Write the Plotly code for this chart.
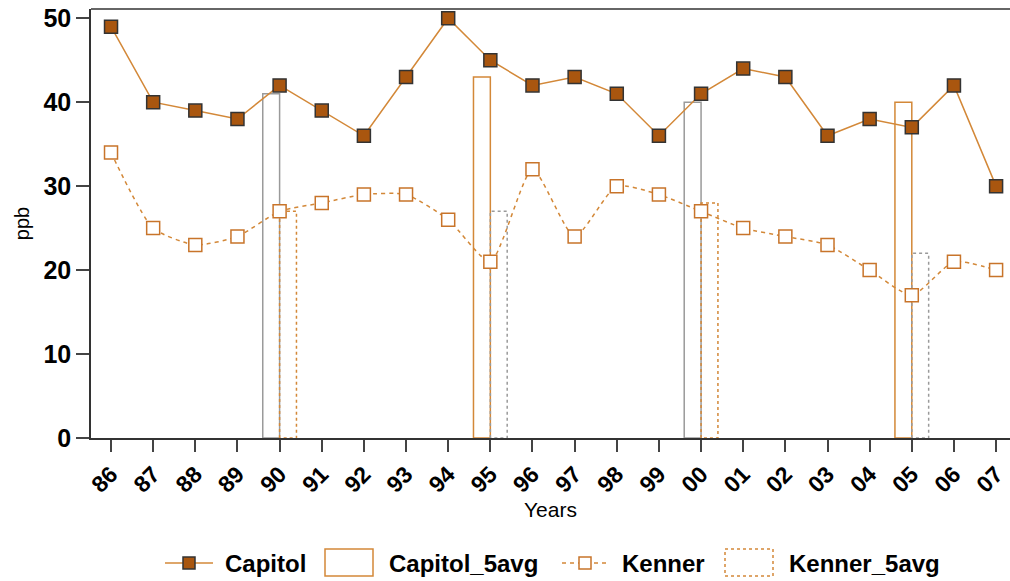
import plotly.graph_objects as go

# Annual values (ppb) at the two sites
years = ["86", "87", "88", "89", "90", "91", "92", "93", "94", "95", "96",
         "97", "98", "99", "00", "01", "02", "03", "04", "05", "06", "07"]
capitol = [49, 40, 39, 38, 42, 39, 36, 43, 50, 45, 42,
           43, 41, 36, 41, 44, 43, 36, 38, 37, 42, 30]
kenner = [34, 25, 23, 24, 27, 28, 29, 29, 26, 21, 32,
          24, 30, 29, 27, 25, 24, 23, 20, 17, 21, 20]

# Five-year averages, reported at the end year of each block
avg_years = ["90", "95", "00", "05"]
capitol_5avg = [41, 43, 40, 40]
kenner_5avg = [27, 27, 28, 22]

ORANGE = "#d38838"
BROWN = "#a9560f"
DARK = "#333333"
GRAY = "#9a9a9a"

# outline colours of the average boxes, one per block
capitol_box_colors = [GRAY, ORANGE, GRAY, ORANGE]
kenner_box_colors = [ORANGE, GRAY, ORANGE, GRAY]

idx = {y: i for i, y in enumerate(years)}
avg_pos = [idx[y] for y in avg_years]
bar_w = 0.4

W, H = 1010, 581
M_L, M_R, M_T, M_B = 91, 0, 9, 143
PW, PH = W - M_L - M_R, H - M_T - M_B

fig = go.Figure()

# Capitol 5-year average: outlined bar left of the year tick
fig.add_trace(go.Bar(
    x=avg_pos, y=capitol_5avg, name="Capitol_5avg",
    width=bar_w, offset=-bar_w,
    marker=dict(color="rgba(255,255,255,0)",
                line=dict(color=capitol_box_colors, width=1.5)),
))

# Kenner 5-year average: dashed box right of the year tick
for col in (ORANGE, GRAY):
    kx, ky = [], []
    for p, v, c in zip(avg_pos, kenner_5avg, kenner_box_colors):
        if c != col:
            continue
        kx += [p, p, p + bar_w, p + bar_w, p, None]
        ky += [0, v, v, 0, 0, None]
    fig.add_trace(go.Scatter(
        x=kx, y=ky, name="Kenner_5avg", mode="lines",
        line=dict(color=col, width=1.5, dash="3px,3px"),
    ))

fig.add_trace(go.Scatter(
    x=list(range(len(years))), y=capitol, name="Capitol", mode="lines+markers",
    line=dict(color=ORANGE, width=1.5),
    marker=dict(symbol="square", size=13, color=BROWN, line=dict(color=DARK, width=1.5)),
))

fig.add_trace(go.Scatter(
    x=list(range(len(years))), y=kenner, name="Kenner", mode="lines+markers",
    line=dict(color=ORANGE, width=1.5, dash="4px,4px", shape="spline", smoothing=0.6),
    marker=dict(symbol="square", size=13, color="white", line=dict(color="#c8742a", width=1.5)),
))

fig.update_layout(
    width=W, height=H,
    margin=dict(l=M_L, r=M_R, t=M_T, b=M_B),
    paper_bgcolor="white", plot_bgcolor="white",
    font=dict(family="Liberation Sans, Arial, sans-serif", color="black"),
    showlegend=False,
    barmode="overlay",
)

fig.update_xaxes(
    range=[-0.475, 21.33],
    tickmode="array", tickvals=list(range(len(years))), ticktext=years,
    tickangle=-45, tickfont=dict(size=23, weight="bold"),
    ticks="outside", ticklen=12, tickcolor="#444", tickwidth=1.5,
    showline=True, linecolor=DARK, linewidth=1.5,
    showgrid=False, zeroline=False,
    title=dict(text="Years", font=dict(size=21), standoff=4),
)
fig.update_yaxes(
    range=[0, 51.1],
    tickvals=[0, 10, 20, 30, 40, 50],
    tickfont=dict(size=25, weight="bold"),
    ticks="outside", ticklen=13, tickcolor="#444", tickwidth=1.5,
    showline=True, linecolor=DARK, linewidth=1.5,
    showgrid=False, zeroline=False,
    title=dict(text="ppb", font=dict(size=20), standoff=8),
)

# top frame line
fig.add_shape(type="line", xref="paper", yref="paper", x0=0, x1=1, y0=1, y1=1,
              line=dict(color=DARK, width=1.5))


# ---- legend row below the axis, laid out in page pixels ----
def px(x):
    return (x - M_L) / PW


def py(y):
    return (H - M_B - y) / PH


LEG_Y = 563
LEG_FONT = dict(size=24, weight="bold", color="black",
                family="Liberation Sans, Arial, sans-serif")


def leg_text(x, text):
    fig.add_annotation(x=px(x), y=py(LEG_Y), xref="paper", yref="paper",
                       text=text, showarrow=False, xanchor="left", yanchor="middle",
                       font=LEG_FONT)


def leg_line(x0, x1, dash, fill, edge):
    fig.add_shape(type="line", xref="paper", yref="paper",
                  x0=px(x0), x1=px(x1), y0=py(LEG_Y), y1=py(LEG_Y),
                  line=dict(color=ORANGE, width=1.5, dash=dash))
    c, h = (x0 + x1) / 2, 6
    fig.add_shape(type="rect", xref="paper", yref="paper",
                  x0=px(c - h), x1=px(c + h), y0=py(LEG_Y - h), y1=py(LEG_Y + h),
                  fillcolor=fill, line=dict(color=edge, width=1.5))


def leg_box(x0, x1, dash):
    fig.add_shape(type="rect", xref="paper", yref="paper",
                  x0=px(x0), x1=px(x1), y0=py(549), y1=py(576),
                  fillcolor="rgba(0,0,0,0)", line=dict(color=ORANGE, width=1.5, dash=dash))


leg_line(165, 213, "solid", BROWN, DARK)
leg_text(223, "Capitol")
leg_box(325, 373, "solid")
leg_text(387, "Capitol_5avg")
leg_line(562, 608, "4px,4px", "white", "#c8742a")
leg_text(620, "Kenner")
leg_box(725, 773, "3px,3px")
leg_text(787, "Kenner_5avg")

fig.write_html("out.html")
